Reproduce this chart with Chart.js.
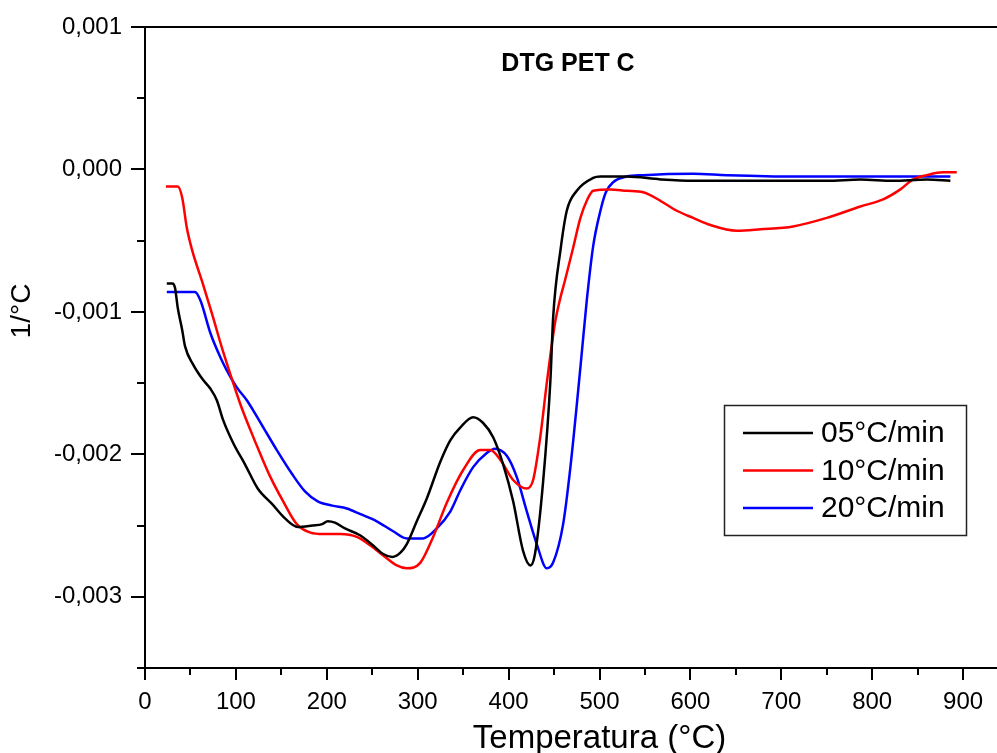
<!DOCTYPE html>
<html>
<head>
<meta charset="utf-8">
<title>DTG PET C</title>
<script src="https://cdn.jsdelivr.net/npm/chart.js@4.4.1/dist/chart.umd.min.js"></script>
<style>
  html, body { margin: 0; padding: 0; background: #fff; overflow: hidden; }
  #wrap { width: 1060px; height: 753px; }
</style>
</head>
<body>
<div id="wrap"><canvas id="dtg" width="1060" height="753"></canvas></div>
<script>
const titleText = 'DTG PET C';
const xTitle = 'Temperatura (°C)';
const yTitle = '1/°C';
const seriesLabels = ['05°C/min', '10°C/min', '20°C/min'];
const seriesColors = ['#000000', '#ff0000', '#0000ff'];

// 05 °C/min
const temp05 = [24, 30, 33, 36, 41, 44, 53, 63, 72, 79, 86, 97, 110, 124, 140, 154, 168, 184, 195, 201,
  209, 220, 237, 251, 262, 272, 281, 288, 299, 310, 325, 336, 347, 361, 372, 383, 394, 405, 416, 424,
  429, 438, 446, 449, 457, 464, 475, 493, 501, 530, 567, 603, 640, 677, 713, 750, 787, 823, 860, 886];
const dtg05 = [-0.00080, -0.00080, -0.00083, -0.00097, -0.00113, -0.00124, -0.00137, -0.00147, -0.00154, -0.00162,
  -0.00176, -0.00192, -0.00207, -0.00224, -0.00235, -0.00245, -0.00251, -0.00250, -0.00249, -0.00247,
  -0.00248, -0.00252, -0.00257, -0.00264, -0.00270, -0.00272, -0.00269, -0.00263, -0.00247, -0.00231,
  -0.00205, -0.00190, -0.00181, -0.00174, -0.00178, -0.00188, -0.00207, -0.00233, -0.00268, -0.00278,
  -0.00270, -0.00219, -0.00148, -0.00104, -0.00057, -0.00029, -0.00015, -0.00006, -0.00005, -0.00005,
  -0.00007, -0.00008, -0.00008, -0.00008, -0.00008, -0.00008, -0.00007, -0.00008, -0.00007, -0.00008];

// 10 °C/min
const temp10 = [23, 36, 41, 46, 52, 63, 74, 85, 94, 105, 116, 127, 138, 152, 167, 182, 196, 215, 233, 248,
  262, 277, 288, 303, 317, 332, 350, 369, 380, 391, 405, 420, 427, 435, 442, 451, 457, 462, 471, 479,
  486, 493, 512, 530, 548, 567, 585, 603, 622, 651, 677, 713, 750, 787, 812, 831, 845, 860, 878, 893];
const dtg10 = [-0.00012, -0.00012, -0.00020, -0.00041, -0.00057, -0.00079, -0.00102, -0.00126, -0.00144, -0.00165,
  -0.00183, -0.00200, -0.00216, -0.00233, -0.00249, -0.00255, -0.00256, -0.00256, -0.00258, -0.00264,
  -0.00271, -0.00278, -0.00280, -0.00276, -0.00258, -0.00234, -0.00211, -0.00197, -0.00197, -0.00204,
  -0.00218, -0.00224, -0.00218, -0.00187, -0.00150, -0.00108, -0.00090, -0.00078, -0.00055, -0.00034,
  -0.00022, -0.00015, -0.00014, -0.00015, -0.00016, -0.00022, -0.00029, -0.00034, -0.00039, -0.00043,
  -0.00042, -0.00040, -0.00034, -0.00026, -0.00021, -0.00014, -0.00007, -0.00004, -0.00002, -0.00002];

// 20 °C/min
const temp20 = [24, 55, 61, 72, 83, 90, 101, 112, 130, 145, 162, 176, 190, 206, 222, 237, 255, 273, 288, 306,
  321, 336, 347, 361, 376, 385, 398, 409, 420, 431, 442, 449, 460, 468, 479, 486, 493, 501, 507, 515,
  530, 548, 603, 640, 713, 787, 860, 886];
const dtg20 = [-0.00086, -0.00086, -0.00092, -0.00115, -0.00132, -0.00141, -0.00153, -0.00162, -0.00181, -0.00197,
  -0.00214, -0.00226, -0.00233, -0.00236, -0.00238, -0.00242, -0.00247, -0.00254, -0.00259, -0.00259,
  -0.00252, -0.00240, -0.00225, -0.00209, -0.00199, -0.00196, -0.00201, -0.00216, -0.00240, -0.00263,
  -0.00280, -0.00276, -0.00249, -0.00209, -0.00139, -0.00092, -0.00054, -0.00029, -0.00016, -0.00009,
  -0.00005, -0.00004, -0.00003, -0.00004, -0.00005, -0.00005, -0.00005, -0.00005];

const xTicks = [0, 100, 200, 300, 400, 500, 600, 700, 800, 900];
const xMinorTicks = [50, 150, 250, 350, 450, 550, 650, 750, 850, 950];
const yTicks = [-0.003, -0.002, -0.001, 0, 0.001];
const yMinorTicks = [-0.0035, -0.0025, -0.0015, -0.0005, 0.0005];

const FONT = '"Liberation Sans", Arial, sans-serif';
Chart.defaults.font.family = FONT;
Chart.defaults.color = '#000';

function toPoints(xs, ys) {
  return xs.map((x, i) => ({ x: x, y: ys[i] }));
}

const frame = {
  id: 'frame',
  afterDraw(chart) {
    const ctx = chart.ctx;
    const a = chart.chartArea;
    const x = chart.scales.x, y = chart.scales.y;
    ctx.save();
    ctx.strokeStyle = '#000';
    ctx.lineWidth = 2;
    ctx.beginPath();
    ctx.moveTo(a.left, a.top);
    ctx.lineTo(a.right, a.top);
    ctx.lineTo(a.right, a.bottom);
    xMinorTicks.forEach(v => {
      const px = Math.round(x.getPixelForValue(v));
      ctx.moveTo(px, a.bottom);
      ctx.lineTo(px, a.bottom + 7);
    });
    yMinorTicks.forEach(v => {
      const py = Math.round(y.getPixelForValue(v));
      ctx.moveTo(a.left - 8, py);
      ctx.lineTo(a.left, py);
    });
    ctx.stroke();

    // title inside the plot
    ctx.fillStyle = '#000';
    ctx.font = 'bold 25px ' + FONT;
    ctx.textAlign = 'center';
    ctx.textBaseline = 'middle';
    ctx.fillText(titleText, 568, 64);

    // y axis title (sits above the middle, as in the original)
    ctx.save();
    ctx.translate(22, 311);
    ctx.rotate(-Math.PI / 2);
    ctx.font = '28px ' + FONT;
    ctx.fillText(yTitle, 0, 0);
    ctx.restore();

    // legend box
    const left = 724, top = 405, w = 242, h = 130;
    ctx.fillStyle = '#fff';
    ctx.fillRect(left, top, w, h);
    ctx.lineWidth = 1.5;
    ctx.strokeStyle = '#222';
    ctx.strokeRect(left + 0.5, top + 0.5, w, h);
    ctx.font = '30px ' + FONT;
    ctx.textAlign = 'left';
    chart.data.datasets.forEach((ds, i) => {
      const yy = top + 28 + i * 37.5;
      ctx.strokeStyle = ds.borderColor;
      ctx.lineWidth = 2.5;
      ctx.beginPath();
      ctx.moveTo(743, yy);
      ctx.lineTo(813, yy);
      ctx.stroke();
      ctx.fillStyle = '#000';
      ctx.fillText(ds.label, 821, yy + 1);
    });
    ctx.restore();
  }
};

const chart = new Chart(document.getElementById('dtg'), {
  type: 'line',
  data: {
    datasets: [
      { label: seriesLabels[0], data: toPoints(temp05, dtg05), borderColor: seriesColors[0] },
      { label: seriesLabels[1], data: toPoints(temp10, dtg10), borderColor: seriesColors[1] },
      { label: seriesLabels[2], data: toPoints(temp20, dtg20), borderColor: seriesColors[2] }
    ]
  },
  options: {
    responsive: false,
    animation: false,
    layout: { padding: { top: 27, right: 6, bottom: 0, left: 0 } },
    elements: {
      line: { borderWidth: 2.5, cubicInterpolationMode: 'monotone', fill: false },
      point: { radius: 0 }
    },
    plugins: {
      legend: { display: false },
      tooltip: { enabled: false }
    },
    scales: {
      x: {
        type: 'linear',
        min: 0,
        max: 1000,
        afterBuildTicks: s => { s.ticks = xTicks.map(v => ({ value: v })); },
        afterFit: s => { s.height = 85; },
        grid: { drawOnChartArea: false, color: '#000', lineWidth: 2, tickLength: 12 },
        border: { color: '#000', width: 2 },
        ticks: { font: { size: 24 }, padding: 8, maxRotation: 0, autoSkip: false, callback: v => String(v) },
        title: { display: true, text: xTitle, font: { size: 33, lineHeight: 0.85 }, padding: 0 }
      },
      y: {
        type: 'linear',
        min: -0.0035,
        max: 0.001,
        afterBuildTicks: s => { s.ticks = yTicks.map(v => ({ value: v })); },
        afterFit: s => { s.width = 145; },
        grid: { drawOnChartArea: false, color: '#000', lineWidth: 2, tickLength: 14 },
        border: { color: '#000', width: 2 },
        ticks: { font: { size: 24 }, padding: 9, callback: v => v.toFixed(3).replace('.', ',') }
      }
    }
  },
  plugins: [frame]
});
</script>
</body>
</html>
